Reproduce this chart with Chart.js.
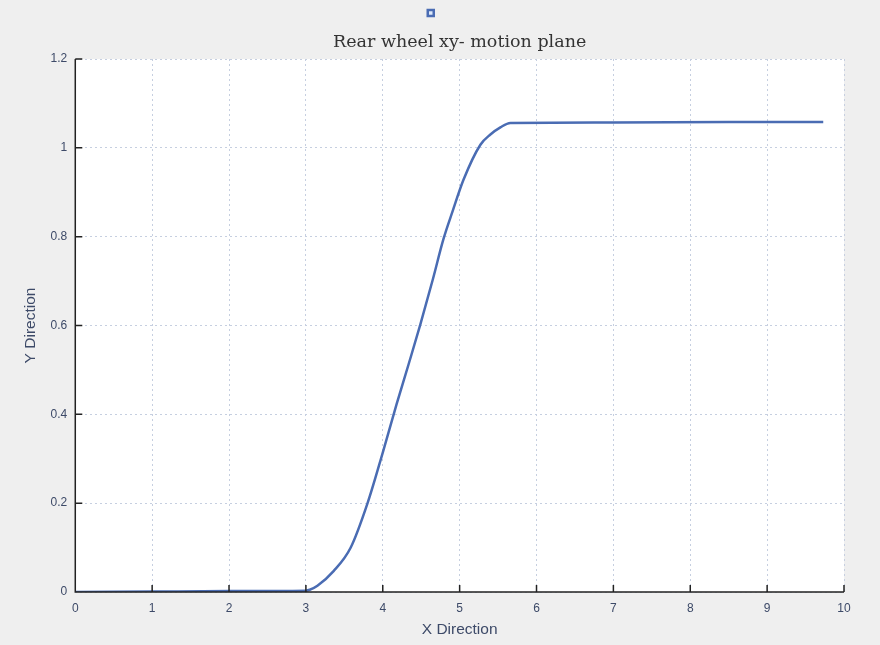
<!DOCTYPE html>
<html lang="en-US">
  <head>
    <meta charset="utf-8" />
    <title>Rear wheel xy- motion plane</title>
    <script src="https://cdn.jsdelivr.net/npm/chart.js@4.4.0/dist/chart.umd.min.js"></script>
    <style>
      html, body { margin: 0; padding: 0; background: #efefef; }
      #chart { display: block; }
    </style>
  </head>
  <body>
    <canvas id="chart" width="880" height="645"></canvas>
    <script>
      // values
      const xValues = [0, 1, 2, 3.0, 3.05, 3.15, 3.36, 3.58, 3.8, 4.0, 4.18, 4.34, 4.49, 4.65, 4.79, 4.91, 5.05, 5.27, 5.4, 5.53, 5.66, 7.0, 8.5, 9.73];
      const yValues = [0, 0.001, 0.002, 0.003, 0.005, 0.014, 0.047, 0.099, 0.199, 0.314, 0.423, 0.515, 0.603, 0.703, 0.795, 0.858, 0.928, 1.007, 1.03, 1.046, 1.056, 1.057, 1.058, 1.058];
      const xTicks = [0, 1, 2, 3, 4, 5, 6, 7, 8, 9, 10];
      const yTicks = [0, 0.2, 0.4, 0.6, 0.8, 1, 1.2];

      const points = xValues.map((x, i) => ({ x: x, y: yValues[i] }));

      // white plot area + axis lines with inward ticks like matlab
      const plotArea = {
        id: 'plotArea',
        beforeDraw(chart) {
          const { ctx, chartArea: a } = chart;
          ctx.save();
          ctx.fillStyle = '#ffffff';
          ctx.fillRect(a.left, a.top, a.right - a.left, a.bottom - a.top);
          ctx.restore();
        },
        afterDatasetsDraw(chart) {
          const { ctx, chartArea: a, scales } = chart;
          ctx.save();
          ctx.strokeStyle = '#222';
          ctx.lineWidth = 1.5;
          ctx.beginPath();
          ctx.moveTo(a.left, a.top);
          ctx.lineTo(a.left, a.bottom);
          ctx.lineTo(a.right, a.bottom);
          xTicks.forEach(v => {
            const px = scales.x.getPixelForValue(v);
            ctx.moveTo(px, a.bottom);
            ctx.lineTo(px, a.bottom - 7);
          });
          yTicks.forEach(v => {
            const py = scales.y.getPixelForValue(v);
            ctx.moveTo(a.left, py);
            ctx.lineTo(a.left + 7, py);
          });
          ctx.stroke();
          ctx.restore();
        }
      };

      new Chart(document.getElementById('chart'), {
        type: 'line',
        data: {
          datasets: [{
            label: '',
            data: points,
            borderColor: '#4a6cb3',
            backgroundColor: '#dce8fa',
            borderWidth: 2.5,
            pointRadius: 0,
            cubicInterpolationMode: 'monotone',
            fill: false
          }]
        },
        options: {
          responsive: false,
          animation: false,
          layout: { padding: { left: 18, right: 36, top: 6, bottom: 6 } },
          plugins: {
            legend: {
              display: true,
              weight: 3000,
              labels: { boxWidth: 6, boxHeight: 6, padding: 4, font: { size: 1 } }
            },
            title: {
              display: true,
              fullSize: false,
              text: 'Rear wheel xy- motion plane',
              color: '#333',
              font: { family: 'DejaVu Serif', size: 17.5, weight: 'normal' },
              padding: { top: 6, bottom: 6 }
            },
            tooltip: { enabled: false }
          },
          scales: {
            x: {
              type: 'linear',
              min: 0,
              max: 10,
              afterBuildTicks(axis) { axis.ticks = xTicks.map(v => ({ value: v })); },
              grid: { color: '#c6cfe0', drawTicks: false },
              border: { display: false, dash: [2, 3] },
              ticks: { color: '#3d4a68', font: { family: 'Liberation Sans', size: 12 }, padding: 9, callback: v => String(v) },
              title: { display: true, text: 'X Direction', color: '#3d4a68', font: { family: 'Liberation Sans', size: 15.5 }, padding: { top: -4, bottom: 0 } }
            },
            y: {
              min: 0,
              max: 1.2,
              afterBuildTicks(axis) { axis.ticks = yTicks.map(v => ({ value: v })); },
              grid: { color: '#c6cfe0', drawTicks: false },
              border: { display: false, dash: [2, 3] },
              ticks: { color: '#3d4a68', font: { family: 'Liberation Sans', size: 12 }, padding: 8, callback: v => String(v) },
              title: { display: true, text: 'Y Direction', color: '#3d4a68', font: { family: 'Liberation Sans', size: 15.5 }, padding: 3 }
            }
          }
        },
        plugins: [plotArea]
      });
    </script>
  </body>
</html>
